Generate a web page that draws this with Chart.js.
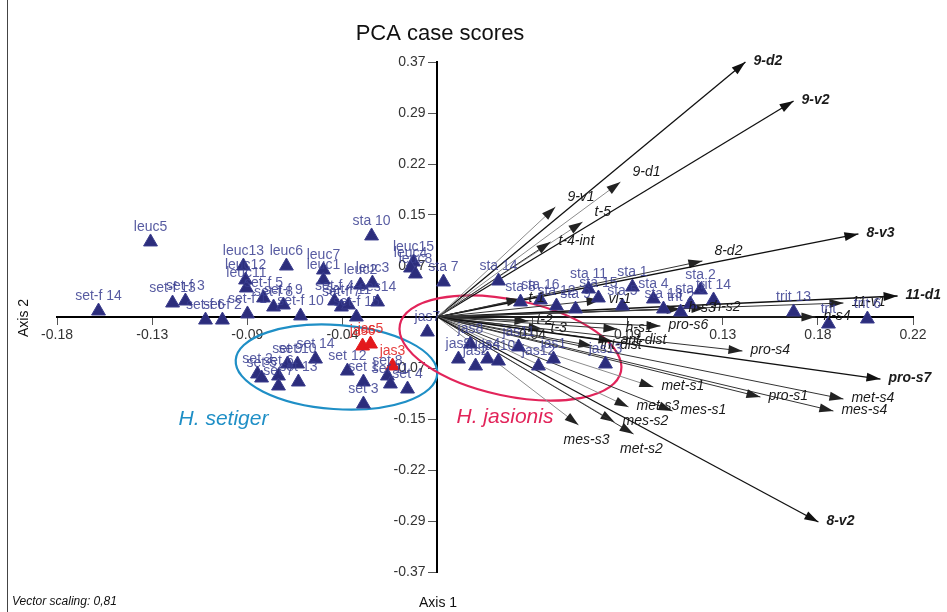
<!DOCTYPE html>
<html>
<head>
<meta charset="utf-8">
<script src="https://cdn.jsdelivr.net/npm/chart.js@4.4.1/dist/chart.umd.min.js"></script>
<style>
  body { margin: 0; background: #fff; }
  #wrap { width: 947px; height: 612px; position: relative; }
</style>
</head>
<body>
<div id="wrap"><canvas id="pcaChart"></canvas></div>
<script>
// tick positions and their printed labels (ascending)
var xTickValues = [-0.1778, -0.1333, -0.0889, -0.0444, 0, 0.0444, 0.0889, 0.1333, 0.1778, 0.2222];
var xTickLabels = ['-0.18', '-0.13', '-0.09', '-0.04', '', '0.04', '0.09', '0.13', '0.18', '0.22'];
var yTickValues = [-0.37, -0.296, -0.222, -0.148, -0.074, 0, 0.074, 0.148, 0.222, 0.296, 0.37];
var yTickLabels = ['-0.37', '-0.29', '-0.22', '-0.15', '-0.07', '', '0.07', '0.15', '0.22', '0.29', '0.37'];

// case scores (blue triangles)
var caseNames = ['leuc5', 'set-f 14', 'set-f 13', 'set-f 3', 'set-f 6', 'set-f 2', 'set-f 1',
  'leuc13', 'leuc12', 'leuc6', 'leuc11', 'set-f 5', 'set-f 8', 'set-f 9', 'set-f 10',
  'leuc7', 'leuc1', 'sta 10', 'leuc2', 'leuc3', 'ses14', 'set-f 4', 'set-f 7', 'set-f 11', 'set-f 15',
  'leuc15', 'leuc4', 'leuc8', 'sta 7', 'jas7',
  'set 2', 'set 5', 'set 6', 'set 7', 'set 9', 'set 10', 'set 13', 'set 14', 'set 12',
  'set 1', 'set 3', 'set 8', 'set 11', 'set 4',
  'jas9', 'jas8', 'jas2', 'jas4', 'jas10', 'jas11', 'jas12', 'jas1', 'jas13',
  'sta 14', 'sta 8', 'sta 16', 'sta 12', 'sta 11', 'sta 15', 'sta 1', 'sta 4', 'sta 2',
  'sta 3', 'sta 5', 'sta 9', 'sta 13', 'trit 14', 'trit 2',
  'trit 13', 'trit', 'trit 6'];
var caseX = [-0.1341, -0.1584, -0.1238, -0.1178, -0.1084, -0.1005, -0.0888,
  -0.0907, -0.0897, -0.0706, -0.0893, -0.0813, -0.0766, -0.0720, -0.0640,
  -0.0533, -0.0533, -0.0308, -0.0360, -0.0304, -0.0280, -0.0481, -0.0449, -0.0416, -0.0379,
  -0.0112, -0.0126, -0.0103, 0.0028, -0.0047,
  -0.0841, -0.0822, -0.0743, -0.0743, -0.0701, -0.0654, -0.0650, -0.0570, -0.0421,
  -0.0346, -0.0346, -0.0234, -0.0220, -0.0140,
  0.0098, 0.0154, 0.0178, 0.0234, 0.0285, 0.0379, 0.0472, 0.0542, 0.0785,
  0.0285, 0.0388, 0.0481, 0.0556, 0.0706, 0.0752, 0.0911, 0.1009, 0.1229,
  0.1182, 0.0864, 0.0645, 0.1056, 0.1290, 0.1136,
  0.1664, 0.1827, 0.2009];
var caseY = [0.1089, 0.0087, 0.0203, 0.0232, -0.0044, -0.0044, 0.0044,
  0.0740, 0.0537, 0.0740, 0.0421, 0.0276, 0.0145, 0.0174, 0.0015,
  0.0682, 0.0537, 0.1176, 0.0464, 0.0493, 0.0218, 0.0232, 0.0145, 0.0174, 0.0000,
  0.0798, 0.0711, 0.0624, 0.0508, -0.0218,
  -0.0827, -0.0885, -0.0856, -0.1001, -0.0682, -0.0682, -0.0943, -0.0610, -0.0784,
  -0.0943, -0.1263, -0.0856, -0.0972, -0.1045,
  -0.0610, -0.0392, -0.0711, -0.0610, -0.0639, -0.0435, -0.0711, -0.0610, -0.0682,
  0.0522, 0.0218, 0.0247, 0.0160, 0.0406, 0.0276, 0.0435, 0.0261, 0.0392,
  0.0189, 0.0160, 0.0116, 0.0116, 0.0247, 0.0073,
  0.0073, -0.0102, -0.0029];

// highlighted cases (red triangles)
var redNames = ['jas6', 'jas5', 'jas3'];
var redX = [-0.0350, -0.0313, -0.0210];
var redY = [-0.0421, -0.0392, -0.0711];

// variable loadings (arrows from the origin)
var vectorNames = ['9-d2', '9-v2', '9-v1', '9-d1', 't-5', 't-4-int', '8-d2', '8-v3', '11-d1', '11-v1',
  'h-s2', 'h-s4', 'h-s3', 'pro-s6', 'ant-dist', 't-1', 'vl-1', 't-2', 't-3', 'int-dist', 'h-s1',
  'pro-s4', 'pro-s7', 'met-s4', 'mes-s4', 'pro-s1', 'met-s1', 'met-s3', 'mes-s1', 'mes-s2',
  'met-s2', 'mes-s3', '8-v2'];
var vectorX = [0.1439, 0.1664, 0.0551, 0.0855, 0.0678, 0.0528, 0.1238, 0.1967, 0.2150, 0.1897,
  0.1252, 0.1766, 0.1136, 0.1042, 0.0818, 0.0388, 0.0762, 0.0425, 0.0491, 0.0724, 0.0841,
  0.1425, 0.2070, 0.1897, 0.1850, 0.1509, 0.1009, 0.0893, 0.1098, 0.0827,
  0.0916, 0.0659, 0.1780];
var vectorY = [0.3701, 0.3135, 0.1597, 0.1959, 0.1379, 0.1089, 0.0813, 0.1205, 0.0305, 0.0203,
  0.0131, 0.0000, 0.0116, -0.0131, -0.0348, 0.0261, 0.0247, -0.0058, -0.0174, -0.0421, -0.0174,
  -0.0493, -0.0900, -0.1190, -0.1364, -0.1161, -0.1016, -0.1306, -0.1364, -0.1524,
  -0.1698, -0.1567, -0.2975];

// styling groups
var boldVectors = ['9-d2', '9-v2', '8-v3', '11-d1', 'pro-s7', '8-v2'];
var lightVectors = ['9-v1', '9-d1', 't-5', 'mes-s3', 'mes-s2', 'met-s1', 'met-s3'];
var belowLabels = ['mes-s3', 'met-s2'];
var upLabels = ['9-v1', '9-d1', 't-5', '8-d2'];

var ellipses = [
  { cx: -0.0472, cy: -0.0726, rx: 0.0472, ry: 0.061, rot: 4, color: '#1f8fc6', label: 'H. setiger', lx: -0.121, ly: -0.148 },
  { cx: 0.0341, cy: -0.045, rx: 0.0528, ry: 0.0697, rot: 12, color: '#e2245a', label: 'H. jasionis', lx: 0.0089, ly: -0.145 }
];

var FONT = '"Liberation Sans", Arial, sans-serif';

var pcaPlugin = {
  id: 'pcaExtras',
  beforeDatasetsDraw: function(chart) {
    var ctx = chart.ctx, xs = chart.scales.x, ys = chart.scales.y;
    var x0 = xs.getPixelForValue(0), y0 = ys.getPixelForValue(0);
    var pxPerX = xs.getPixelForValue(1) - x0;
    var pxPerY = y0 - ys.getPixelForValue(1);
    ctx.save();
    // y tick labels, left of the centred axis
    ctx.font = '14px ' + FONT;
    ctx.fillStyle = '#333';
    ctx.textAlign = 'right';
    ctx.textBaseline = 'middle';
    for (var k = 0; k < yTickValues.length; k++) {
      ctx.fillText(yTickLabels[k], x0 - 12, ys.getPixelForValue(yTickValues[k]));
    }
    // group ellipses
    ellipses.forEach(function(e) {
      ctx.beginPath();
      ctx.ellipse(xs.getPixelForValue(e.cx), ys.getPixelForValue(e.cy), e.rx * pxPerX, e.ry * pxPerY,
        e.rot * Math.PI / 180, 0, Math.PI * 2);
      ctx.strokeStyle = e.color;
      ctx.lineWidth = 2.2;
      ctx.stroke();
      ctx.font = 'italic 21px ' + FONT;
      ctx.fillStyle = e.color;
      ctx.textAlign = 'left';
      ctx.textBaseline = 'middle';
      ctx.fillText(e.label, xs.getPixelForValue(e.lx), ys.getPixelForValue(e.ly));
    });
    // loading vectors
    for (var i = 0; i < vectorNames.length; i++) {
      var name = vectorNames[i];
      var x1 = xs.getPixelForValue(vectorX[i]), y1 = ys.getPixelForValue(vectorY[i]);
      var bold = boldVectors.indexOf(name) >= 0;
      ctx.strokeStyle = lightVectors.indexOf(name) >= 0 ? '#8c8c8c' : (bold ? '#111' : '#333');
      ctx.fillStyle = bold ? '#111' : '#222';
      ctx.lineWidth = bold ? 1.3 : 1;
      ctx.beginPath();
      ctx.moveTo(x0, y0);
      ctx.lineTo(x1, y1);
      ctx.stroke();
      var a = Math.atan2(y1 - y0, x1 - x0);
      var len = 14, half = 4.5;
      ctx.beginPath();
      ctx.moveTo(x1, y1);
      ctx.lineTo(x1 - len * Math.cos(a) + half * Math.sin(a), y1 - len * Math.sin(a) - half * Math.cos(a));
      ctx.lineTo(x1 - len * Math.cos(a) - half * Math.sin(a), y1 - len * Math.sin(a) + half * Math.cos(a));
      ctx.closePath();
      ctx.fill();
    }
    ctx.restore();
  },
  afterDatasetsDraw: function(chart) {
    var ctx = chart.ctx, xs = chart.scales.x, ys = chart.scales.y;
    ctx.save();
    ctx.textBaseline = 'middle';
    // vector labels
    for (var i = 0; i < vectorNames.length; i++) {
      var name = vectorNames[i];
      var x1 = xs.getPixelForValue(vectorX[i]), y1 = ys.getPixelForValue(vectorY[i]);
      var bold = boldVectors.indexOf(name) >= 0;
      ctx.font = (bold ? 'italic bold ' : 'italic ') + '14px ' + FONT;
      ctx.fillStyle = '#1a1a1a';
      if (belowLabels.indexOf(name) >= 0) {
        ctx.textAlign = 'center';
        ctx.fillText(name, x1 + 8, y1 + 15);
      } else if (upLabels.indexOf(name) >= 0) {
        ctx.textAlign = 'left';
        ctx.fillText(name, x1 + 12, y1 - 10);
      } else {
        ctx.textAlign = 'left';
        ctx.fillText(name, x1 + 8, y1 - 1);
      }
    }
    // case labels
    ctx.font = '14px ' + FONT;
    ctx.textAlign = 'center';
    [[caseNames, 0, 'rgba(58,62,145,0.85)'], [redNames, 1, 'rgba(226,40,40,0.9)']].forEach(function(g) {
      var meta = chart.getDatasetMeta(g[1]);
      ctx.fillStyle = g[2];
      meta.data.forEach(function(pt, j) {
        ctx.fillText(g[0][j], pt.x, pt.y - 15);
      });
    });
    // titles and notes
    ctx.fillStyle = '#111';
    ctx.font = '22px ' + FONT;
    ctx.fillText('PCA case scores', 440, 34);
    ctx.font = '14px ' + FONT;
    ctx.fillText('Axis 1', 438, 603);
    ctx.save();
    ctx.translate(24, 318);
    ctx.rotate(-Math.PI / 2);
    ctx.fillText('Axis 2', 0, 0);
    ctx.restore();
    ctx.textAlign = 'left';
    ctx.font = 'italic 12px ' + FONT;
    ctx.fillText('Vector scaling: 0,81', 12, 602);
    // frame edge
    ctx.strokeStyle = '#444';
    ctx.lineWidth = 1;
    ctx.beginPath();
    ctx.moveTo(7.5, 0);
    ctx.lineTo(7.5, 612);
    ctx.stroke();
    ctx.restore();
  }
};

function pairs(xv, yv) {
  var out = [];
  for (var i = 0; i < xv.length; i++) out.push({ x: xv[i], y: yv[i] });
  return out;
}

var ctx = document.getElementById('pcaChart').getContext('2d');

var chart = new Chart(ctx, {
  type: 'scatter',
  data: {
    datasets: [{
      label: 'cases',
      data: pairs(caseX, caseY),
      pointStyle: 'triangle',
      pointRadius: 8,
      backgroundColor: '#2c2d7c',
      borderColor: '#3a3c8c',
      borderWidth: 1
    }, {
      label: 'highlighted',
      data: pairs(redX, redY),
      pointStyle: 'triangle',
      pointRadius: 8,
      backgroundColor: '#e3191c',
      borderColor: '#e3191c',
      borderWidth: 1
    }]
  },
  options: {
    responsive: true,
    maintainAspectRatio: false,
    devicePixelRatio: 1,
    animation: false,
    layout: { padding: { left: 57, right: 34, top: 62, bottom: 40 } },
    plugins: {
      legend: { display: false },
      tooltip: { enabled: false },
      title: { display: false }
    },
    scales: {
      x: {
        type: 'linear',
        position: { y: 0 },
        min: xTickValues[0],
        max: xTickValues[xTickValues.length - 1],
        afterBuildTicks: function(scale) {
          scale.ticks = xTickValues.map(function(v) { return { value: v }; });
        },
        ticks: {
          autoSkip: false,
          maxRotation: 0,
          color: '#333',
          font: { family: FONT, size: 14 },
          padding: 3,
          callback: function(value, index) { return xTickLabels[index]; }
        },
        grid: { drawOnChartArea: false, drawTicks: true, tickLength: 7, color: '#555' },
        border: { display: true, color: '#000', width: 2 }
      },
      y: {
        type: 'linear',
        position: { x: 0 },
        min: -0.37,
        max: 0.37,
        afterBuildTicks: function(scale) {
          scale.ticks = yTickValues.map(function(v) { return { value: v }; });
        },
        ticks: { display: false },
        grid: { drawOnChartArea: false, drawTicks: true, tickLength: 8, color: '#555' },
        border: { display: true, color: '#000', width: 2 }
      }
    }
  },
  plugins: [pcaPlugin]
});
</script>
</body>
</html>
